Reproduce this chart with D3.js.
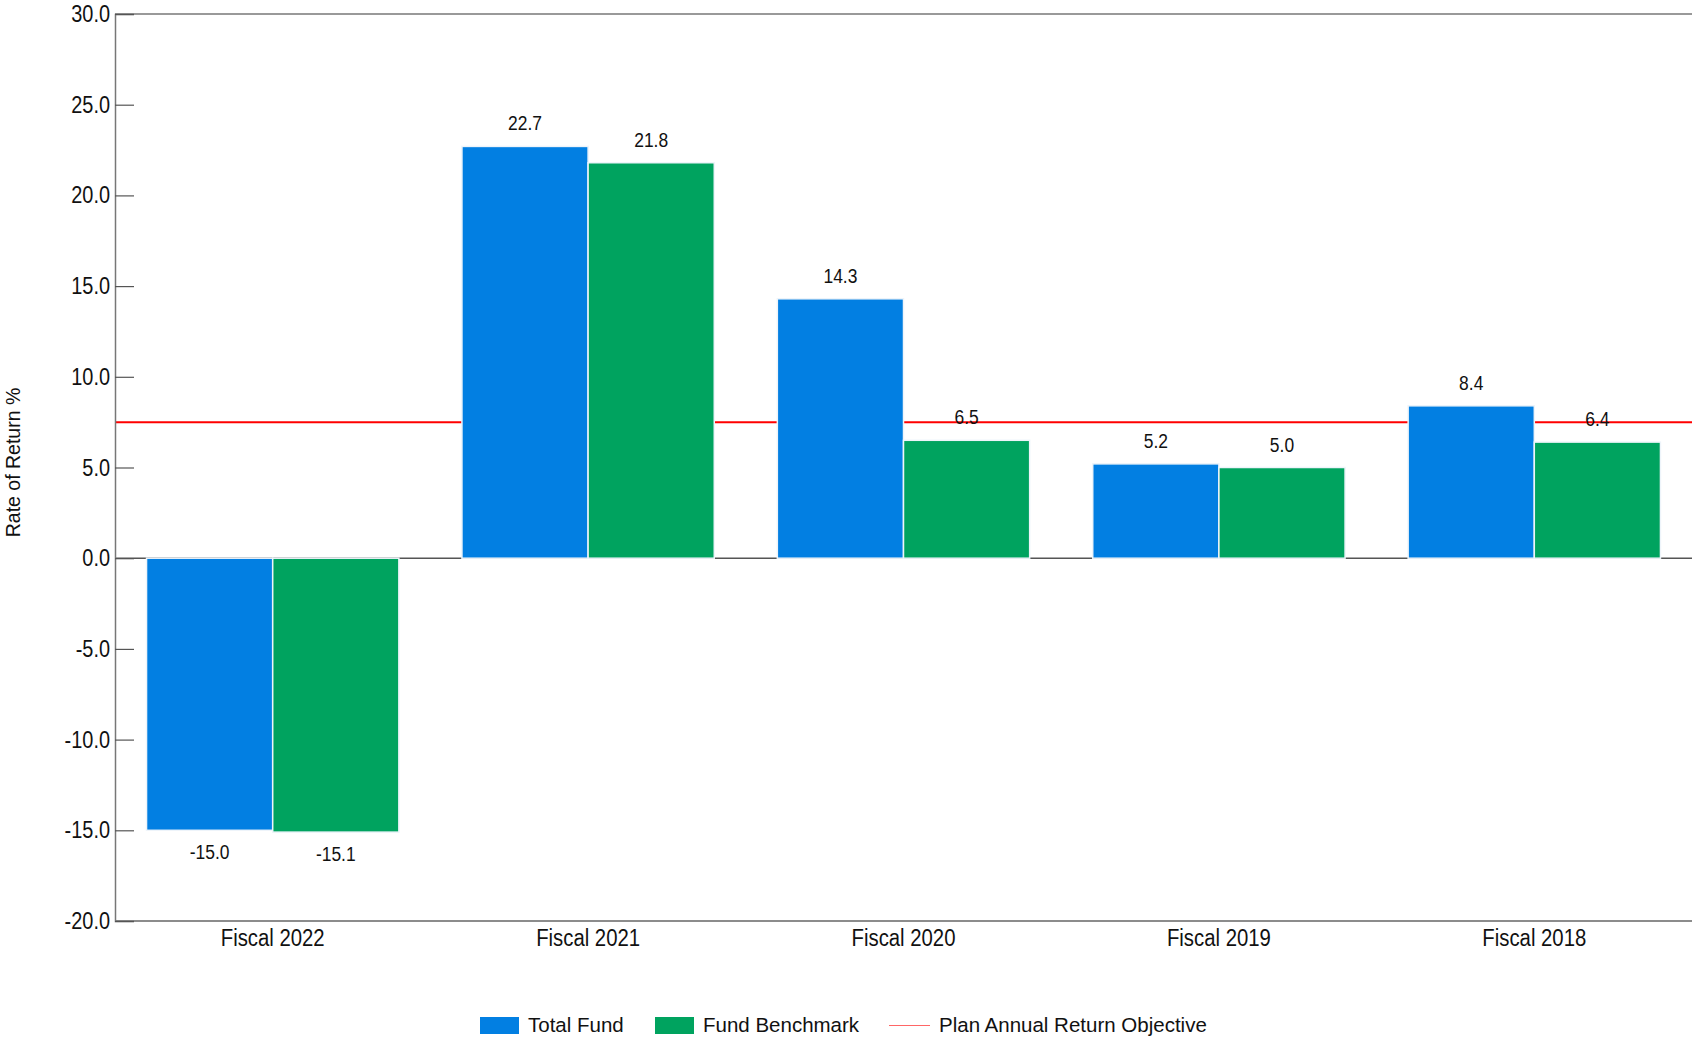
<!DOCTYPE html>
<html>
<head>
<meta charset="utf-8">
<script src="https://cdn.jsdelivr.net/npm/d3@7"></script>
<style>
    body { margin: 0; background: #fff; }
    svg { display: block; font-family: "Liberation Sans", Arial, sans-serif; }
</style>
</head>
<body>
<svg id="chart" width="1692" height="1037"></svg>
<script>
// Chart data
const categories = ["Fiscal 2022", "Fiscal 2021", "Fiscal 2020", "Fiscal 2019", "Fiscal 2018"];
const totalFund = [-15.0, 22.7, 14.3, 5.2, 8.4];
const fundBenchmark = [-15.1, 21.8, 6.5, 5.0, 6.4];
const returnObjective = 7.5;
const yTickValues = [-20, -15, -10, -5, 0, 5, 10, 15, 20, 25, 30];

const seriesNames = ["Total Fund", "Fund Benchmark"];
const seriesColours = ["#027fe2", "#00a35f"];
const objectiveColour = "#ff0000";

const svg = d3.select("#chart");
const plot = { left: 115, right: 1692, top: 14, bottom: 921 };
const squeeze = 0.83; // the labels use a narrow face

const y = d3.scaleLinear()
    .domain([-20, 30])
    .range([plot.bottom, plot.top]);

const x0 = d3.scaleBand()
    .domain(categories)
    .range([plot.left, plot.right])
    .paddingInner(0.2)
    .paddingOuter(0.1);

const x1 = d3.scaleBand()
    .domain(seriesNames)
    .range([0, x0.bandwidth()]);

// Narrow text helper
function narrowText(parent, tx, ty, str, size, anchor) {
    return parent.append("text")
        .attr("transform", `translate(${tx},${ty}) scale(${squeeze},1)`)
        .attr("text-anchor", anchor || "middle")
        .attr("font-size", size)
        .attr("fill", "#111")
        .text(str);
}

// Frame lines top and bottom
svg.append("line")
    .attr("x1", plot.left).attr("x2", plot.right)
    .attr("y1", plot.top).attr("y2", plot.top)
    .attr("stroke", "#777").attr("stroke-width", 1.5);

svg.append("line")
    .attr("x1", plot.left).attr("x2", plot.right)
    .attr("y1", plot.bottom).attr("y2", plot.bottom)
    .attr("stroke", "#666").attr("stroke-width", 1.5);

// Zero line and objective line sit behind the bars
svg.append("line")
    .attr("x1", plot.left).attr("x2", plot.right)
    .attr("y1", y(0)).attr("y2", y(0))
    .attr("stroke", "#555").attr("stroke-width", 1.5);

svg.append("line")
    .attr("x1", plot.left).attr("x2", plot.right)
    .attr("y1", y(returnObjective)).attr("y2", y(returnObjective))
    .attr("stroke", objectiveColour).attr("stroke-width", 2);

// Y axis
const yAxis = svg.append("g")
    .attr("transform", `translate(${plot.left},0)`)
    .call(d3.axisRight(y).tickValues(yTickValues).tickSize(19).tickFormat(""));

yAxis.select(".domain").attr("stroke", "#777").attr("stroke-width", 1.5);
yAxis.selectAll(".tick line").attr("stroke", "#555").attr("stroke-width", 1.2);

yTickValues.forEach(v => {
    narrowText(svg, plot.left - 5, y(v) + 8, v.toFixed(1), 24, "end");
});

// Axis title
svg.append("text")
    .attr("transform", `translate(20,${(plot.top + plot.bottom) / 2 - 5}) rotate(-90)`)
    .attr("text-anchor", "middle")
    .attr("font-size", 19.5)
    .attr("fill", "#111")
    .text("Rate of Return %");

// Bars
const groups = svg.selectAll(".group")
    .data(categories.map((c, i) => ({
        category: c,
        values: [totalFund[i], fundBenchmark[i]]
    })))
    .enter()
    .append("g")
    .attr("class", "group")
    .attr("transform", d => `translate(${x0(d.category)},0)`);

groups.selectAll("rect")
    .data(d => d.values.map((v, j) => ({ series: seriesNames[j], value: v, colour: seriesColours[j] })))
    .enter()
    .append("rect")
    .attr("x", d => x1(d.series))
    .attr("width", x1.bandwidth())
    .attr("y", d => y(Math.max(0, d.value)))
    .attr("height", d => Math.abs(y(d.value) - y(0)))
    .attr("fill", d => d.colour)
    .attr("stroke", "#eef4fa")
    .attr("stroke-width", 1.5);

// Value labels
groups.each(function (d) {
    const g = d3.select(this);
    d.values.forEach((v, j) => {
        const cx = x1(seriesNames[j]) + x1.bandwidth() / 2;
        const ty = v >= 0 ? y(v) - 16 : y(v) + 29;
        narrowText(g, cx, ty, v.toFixed(1), 21);
    });
});

// Category labels
categories.forEach(c => {
    narrowText(svg, x0(c) + x0.bandwidth() / 2, 946, c, 24.5);
});

// Legend
const legend = svg.append("g");
const legendItems = [
    { label: seriesNames[0], colour: seriesColours[0], type: "rect", x: 480, tx: 528 },
    { label: seriesNames[1], colour: seriesColours[1], type: "rect", x: 655, tx: 703 },
    { label: "Plan Annual Return Objective", colour: objectiveColour, type: "line", x: 889, tx: 939 }
];

legendItems.forEach(item => {
    if (item.type === "rect") {
        legend.append("rect")
            .attr("x", item.x).attr("y", 1017)
            .attr("width", 39).attr("height", 17)
            .attr("fill", item.colour);
    } else {
        legend.append("line")
            .attr("x1", item.x).attr("x2", item.x + 41)
            .attr("y1", 1025.5).attr("y2", 1025.5)
            .attr("stroke", "#ff6666").attr("stroke-width", 1.2);
    }
    legend.append("text")
        .attr("x", item.tx).attr("y", 1032)
        .attr("font-size", 20.5)
        .attr("fill", "#111")
        .text(item.label);
});
</script>
</body>
</html>
